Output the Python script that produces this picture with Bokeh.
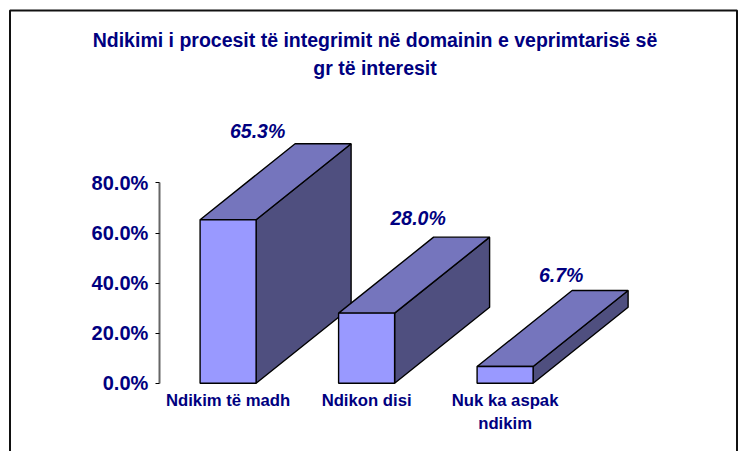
from bokeh.embed import file_html
from bokeh.resources import INLINE
from bokeh.plotting import figure
from bokeh.models import ColumnDataSource, LinearAxis, FixedTicker, Range1d, BoxAnnotation, Label
from bokeh.core.properties import value

TITLE_LINES = ["Ndikimi i procesit të integrimit në domainin e veprimtarisë së", "gr të interesit"]
categories = ["Ndikim të madh", "Ndikon disi", "Nuk ka aspak\nndikim"]
values = [65.3, 28.0, 6.7]
value_labels = ["65.3%", "28.0%", "6.7%"]
y_ticks = [0, 20, 40, 60, 80]
y_tick_labels = ["0.0%", "20.0%", "40.0%", "60.0%", "80.0%"]

W, H = 739, 451
NAVY = "#000080"
FONT = "Liberation Sans"

# pixel calibration of the scales
PX_PER_CAT = 138.5
PX_PER_VAL = 2.505
X0_PX, Y0_PX = 227.6, 382.8
x_of = lambda px: (px - X0_PX) / PX_PER_CAT
HALF = 28.0 / PX_PER_CAT
DX = 95.0 / PX_PER_CAT
DY = 76.0 / PX_PER_VAL

p = figure(width=W, height=H, output_backend="svg", toolbar_location=None,
           x_range=Range1d(x_of(0), x_of(W)),
           y_range=Range1d((Y0_PX - H) / PX_PER_VAL, Y0_PX / PX_PER_VAL),
           min_border=0, min_border_left=0, min_border_right=0, min_border_top=0, min_border_bottom=0,
           x_axis_location=None, y_axis_location=None, outline_line_color=None)
p.styles = {"position": "absolute", "left": "0px", "top": "0px"}
p.xgrid.visible = False
p.ygrid.visible = False

# surrounding chart border (open at the bottom of the crop); screen y counts up from the bottom here
p.add_layout(BoxAnnotation(left=9.5, right=736.5, top=H - 10, bottom=-20,
                           left_units="screen", right_units="screen",
                           top_units="screen", bottom_units="screen",
                           fill_alpha=0, line_color="#111111", line_width=2, line_alpha=1))

xs_front, ys_front, xs_top, ys_top, xs_side, ys_side = [], [], [], [], [], []
for i, v in enumerate(values):
    l, r = i - HALF, i + HALF
    xs_side.append([r, r + DX, r + DX, r]); ys_side.append([0, DY, v + DY, v])
    xs_top.append([l, r, r + DX, l + DX]); ys_top.append([v, v, v + DY, v + DY])
    xs_front.append([l, r, r, l]); ys_front.append([0, 0, v, v])

for i in range(len(values)):
    p.patch(xs_side[i], ys_side[i], fill_color="#4F4F7F", line_color="black", line_width=1.4)
    p.patch(xs_top[i], ys_top[i], fill_color="#7575BD", line_color="black", line_width=1.4)
    p.patch(xs_front[i], ys_front[i], fill_color="#9999FF", line_color="black", line_width=1.4)

# value axis
yax = LinearAxis(ticker=FixedTicker(ticks=y_ticks), fixed_location=x_of(158.8), bounds=(0, 80),
                 major_label_overrides=dict(zip(y_ticks, y_tick_labels)))
yax.axis_line_color = "#666666"
yax.axis_line_width = 2
yax.major_tick_line_color = "black"
yax.major_tick_line_width = 1
yax.major_tick_out = 4
yax.major_tick_in = 0
yax.minor_tick_line_color = None
yax.major_label_standoff = 7
yax.major_label_text_font = FONT
yax.major_label_text_font_style = "bold"
yax.major_label_text_font_size = "20px"
yax.major_label_text_color = NAVY
p.add_layout(yax, "left")

# category axis
xax = LinearAxis(ticker=FixedTicker(ticks=list(range(len(categories)))), fixed_location=0,
                 major_label_overrides=dict(enumerate(categories)))
xax.axis_line_color = None
xax.major_tick_line_color = None
xax.minor_tick_line_color = None
xax.major_tick_out = 0
xax.major_tick_in = 0
xax.major_label_standoff = 8
xax.major_label_text_font = FONT
xax.major_label_text_font_style = "bold"
xax.major_label_text_font_size = "16.7px"
xax.major_label_text_color = NAVY
p.add_layout(xax, "below")

# value labels
lab = ColumnDataSource(dict(x=list(range(len(values))), y=values, t=value_labels,
                            dx=[29.5, 51.5, 56.0], dy=[-88.5, -95.5, -91.5]))
p.text(x="x", y="y", text="t", source=lab, x_offset="dx", y_offset="dy",
       text_align="center", text_baseline="alphabetic",
       text_font=value(FONT), text_font_style="bold italic", text_font_size="19.5px", text_color=NAVY)

# chart title
for line, top in zip(TITLE_LINES, [28, 56]):
    p.add_layout(Label(x=374.5, y=H - top, x_units="screen", y_units="screen", text=line,
                       text_align="center", text_baseline="top", text_font=FONT,
                       text_font_style="bold", text_font_size="19.5px", text_color=NAVY))

open("out.html", "w").write(file_html(p, INLINE))
